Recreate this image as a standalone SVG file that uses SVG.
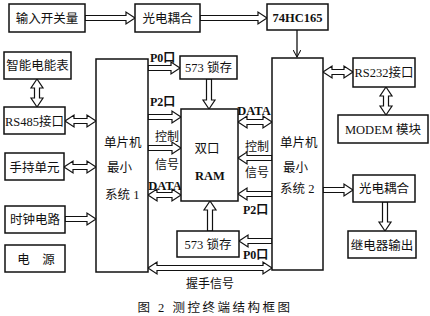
<svg xmlns="http://www.w3.org/2000/svg" width="430" height="316" viewBox="0 0 430 316">
<defs>
<style>
.box{fill:#fff;stroke:#111;stroke-width:1.5}
.ha{fill:#fff;stroke:#111;stroke-width:1.2;stroke-linejoin:miter}
.ln{fill:none;stroke:#111;stroke-width:1.3}
text{font-family:"Liberation Serif","Noto Sans CJK SC",serif;font-size:12.5px;fill:#111}
.c{text-anchor:middle}
.b{font-weight:bold}
.lab{font-size:12px}
</style>
<marker id="ah" viewBox="0 0 10 10" refX="9" refY="5" markerWidth="8" markerHeight="8" orient="auto" markerUnits="userSpaceOnUse">
<path d="M0,0 L9,5 L0,10" fill="none" stroke="#111" stroke-width="1.3"/>
</marker>
</defs>
<rect width="430" height="316" fill="#fff"/>

<g id="connectors">
<path class="ha" d="M85,15.5 H126 V12 L135,18 L126,24 V20.5 H85 Z"/>
<path class="ha" d="M200,15.5 H258 V12 L267,18 L258,24 V20.5 H200 Z"/>
<path class="ln" d="M297,30 V57" marker-end="url(#ah)"/>
<path class="ha" d="M37,79 L43,88 H39.5 V98 H43 L37,107 L31,98 H34.5 V88 H31 Z"/>
<path class="ha" d="M65,121 L74,115 V118.5 H87 V115 L96,121 L87,127 V123.5 H74 V127 Z"/>
<path class="ha" d="M64,167 L73,161 V164.5 H87 V161 L96,167 L87,173 V169.5 H73 V173 Z"/>
<path class="ha" d="M65,216.5 H87 V213 L96,219 L87,225 V221.5 H65 Z"/>
<path class="ha" d="M148,65.5 H171 V62 L180,68 L171,74 V70.5 H148 Z"/>
<path class="ha" d="M206.5,79 V100 H203 L209,109 L215,100 H211.5 V79 Z"/>
<path class="ha" d="M148,114.5 H172 V111 L181,117 L172,123 V119.5 H148 Z"/>
<path class="ha" d="M148,145.5 H172 V142 L181,148 L172,154 V150.5 H148 Z"/>
<path class="ha" d="M148,195 L157,189 V192.5 H172 V189 L181,195 L172,201 V197.5 H157 V201 Z"/>
<path class="ha" d="M207.5,231 V210 H204 L210,201 L216,210 H212.5 V231 Z"/>
<path class="ha" d="M238,122 L247,116 V119.5 H263 V116 L272,122 L263,128 V124.5 H247 V128 Z"/>
<path class="ha" d="M272,155.5 H247 V152 L238,158 L247,164 V160.5 H272 Z"/>
<path class="ha" d="M272,191.5 H247 V188 L238,194 L247,200 V196.5 H272 Z"/>
<path class="ha" d="M272,238.5 H248 V235 L239,241 L248,247 V243.5 H272 Z"/>
<path class="ha" d="M148,268 L157,262 V265.5 H263 V262 L272,268 L263,274 V270.5 H157 V274 Z"/>
<path class="ha" d="M323,72 L332,66 V69.5 H344 V66 L353,72 L344,78 V74.5 H332 V78 Z"/>
<path class="ha" d="M386,87 L392,96 H388.5 V106 H392 L386,115 L380,106 H383.5 V96 H380 Z"/>
<path class="ha" d="M323,187.5 H344 V184 L353,190 L344,196 V192.5 H323 Z"/>
<path class="ha" d="M382.5,202 V222 H379 L385,231 L391,222 H387.5 V202 Z"/>
</g>

<g id="labels">
<text class="b lab" x="150" y="62">P0口</text>
<text class="b lab" x="150" y="106">P2口</text>
<text class="lab c" x="167" y="141">控制</text>
<text class="lab c" x="167" y="169">信号</text>
<text class="b" x="165" y="190" text-anchor="middle" font-size="11">DATA</text>
<text class="b" x="254" y="115" text-anchor="middle" font-size="11">DATA</text>
<text class="lab c" x="257" y="151">控制</text>
<text class="lab c" x="257" y="177">信号</text>
<text class="b lab" x="243" y="214">P2口</text>
<text class="b lab" x="243" y="259">P0口</text>
<text class="lab c" x="210" y="288">握手信号</text>
</g>

<g id="n-input"><rect class="box" x="9" y="4" width="76" height="28"/><text class="c" x="47" y="23">输入开关量</text></g>
<g id="n-opto1"><rect class="box" x="135" y="4" width="65" height="28"/><text class="c" x="167.5" y="23">光电耦合</text></g>
<g id="n-74hc165"><rect class="box" x="267" y="4" width="61" height="26"/><text class="c b" x="297.5" y="22">74HC165</text></g>
<g id="n-meter"><rect class="box" x="4" y="52" width="67" height="27"/><text class="c" x="37.5" y="70">智能电能表</text></g>
<g id="n-rs485"><rect class="box" x="4" y="107" width="61" height="27"/><text class="c" x="34.5" y="125.5">RS485接口</text></g>
<g id="n-handheld"><rect class="box" x="5" y="153" width="59" height="27"/><text class="c" x="34.5" y="171.5">手持单元</text></g>
<g id="n-clock"><rect class="box" x="5" y="206" width="60" height="27"/><text class="c" x="35" y="224">时钟电路</text></g>
<g id="n-power"><rect class="box" x="5" y="245" width="60" height="27"/><text class="c" x="36" y="263.5">电　源</text></g>
<g id="n-mcu1"><rect class="box" x="96" y="59" width="52" height="213"/>
<text x="104" y="147">单片机</text><text x="107" y="172">最小</text><text x="105" y="199">系统 1</text></g>
<g id="n-latch1"><rect class="box" x="180" y="56" width="57" height="23"/><text class="c" x="208.5" y="72">573 锁存</text></g>
<g id="n-ram"><rect class="box" x="181" y="109" width="57" height="92"/>
<text class="c" x="207" y="153">双口</text><text class="c b" x="210" y="180">RAM</text></g>
<g id="n-latch2"><rect class="box" x="177" y="231" width="62" height="26"/><text class="c" x="208" y="248.5">573 锁存</text></g>
<g id="n-mcu2"><rect class="box" x="272" y="58" width="51" height="212"/>
<text x="280" y="147">单片机</text><text x="283" y="172">最小</text><text x="280" y="193">系统 2</text></g>
<g id="n-rs232"><rect class="box" x="353" y="58" width="62" height="29"/><text class="c" x="384" y="77">RS232接口</text></g>
<g id="n-modem"><rect class="box" x="338" y="115" width="90" height="28"/><text class="c" x="383" y="134">MODEM 模块</text></g>
<g id="n-opto2"><rect class="box" x="353" y="175" width="62" height="27"/><text class="c" x="384" y="193">光电耦合</text></g>
<g id="n-relay"><rect class="box" x="348" y="231" width="68" height="27"/><text class="c" x="382" y="249.5">继电器输出</text></g>

<text class="c" x="215" y="312" letter-spacing="2.5">图 2 测控终端结构框图</text>
</svg>
